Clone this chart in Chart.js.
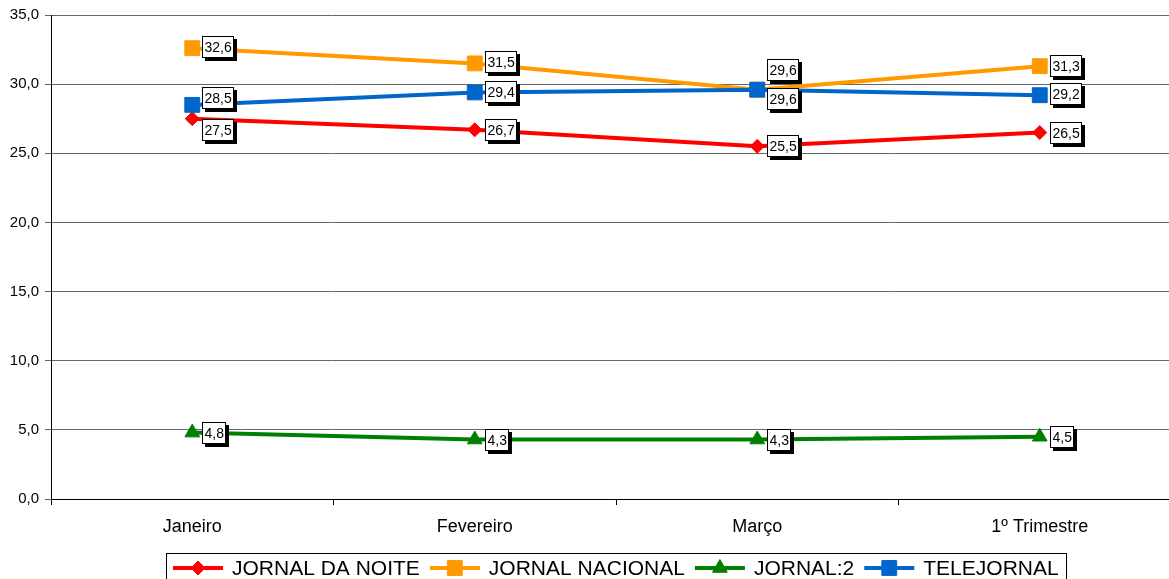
<!DOCTYPE html>
<html>
<head>
<meta charset="utf-8">
<script src="https://cdn.jsdelivr.net/npm/chart.js"></script>
<style>
  html, body { margin: 0; padding: 0; overflow: hidden; background: #fff; }
  #chart { display: block; }
</style>
</head>
<body>
<canvas id="chart" width="1169" height="579"></canvas>
<script>
const months = ["Janeiro", "Fevereiro", "Março", "1º Trimestre"];
const jornalDaNoite = [27.5, 26.7, 25.5, 26.5];
const jornalNacional = [32.6, 31.5, 29.6, 31.3];
const jornal2 = [4.8, 4.3, 4.3, 4.5];
const telejornal = [28.5, 29.4, 29.6, 29.2];

// vertical nudges of the value boxes (px), to keep them apart like the original
const shiftNoite = [11, 0, 0, 0];
const shiftNacional = [-1, -1, -20, 0];
const shiftJornal2 = [0, 0, 0, 0];
const shiftTele = [-7, 0, 9, -1];

const FONT = '"Liberation Sans", Arial, sans-serif';
const fmt = (v) => v.toFixed(1).replace(".", ",");

// the original plot runs ~12px past the right edge of the picture
const extendRight = {
  id: "extendRight",
  afterLayout(chart) {
    const extra = 12;
    chart.chartArea.right += extra;
    chart.chartArea.width += extra;
    const x = chart.scales.x;
    x.right += extra;
    x.width += extra;
    x.configure();
  },
};

// boxed value labels with a drop shadow
const boxLabels = {
  id: "boxLabels",
  afterDatasetsDraw(chart) {
    const ctx = chart.ctx;
    ctx.save();
    ctx.font = "14px " + FONT;
    ctx.textBaseline = "middle";
    chart.data.datasets.forEach((ds, i) => {
      chart.getDatasetMeta(i).data.forEach((pt, j) => {
        const txt = fmt(ds.data[j]);
        const w = Math.round(ctx.measureText(txt).width) + 5;
        const h = 22;
        const x = Math.round(pt.x + 10);
        const y = Math.round(pt.y + ds.labelShift[j] - h / 2);
        ctx.fillStyle = "#000";
        ctx.fillRect(x + 3, y + 3, w, h);
        ctx.fillStyle = "#fff";
        ctx.fillRect(x, y, w, h);
        ctx.strokeStyle = "#000";
        ctx.lineWidth = 1;
        ctx.strokeRect(x + 0.5, y + 0.5, w - 1, h - 1);
        ctx.fillStyle = "#000";
        ctx.fillText(txt, x + 2.5, y + h / 2 + 1);
      });
    });
    ctx.restore();
  },
};

// legend drawn by hand: line + marker, then the name, all inside a box
const boxLegend = {
  id: "boxLegend",
  afterDraw(chart) {
    const ctx = chart.ctx;
    const area = chart.chartArea;
    ctx.save();
    ctx.font = "21px " + FONT;
    ctx.textBaseline = "middle";
    const items = chart.data.datasets.map((ds) => ({
      ds,
      tw: ctx.measureText(ds.label).width,
    }));
    let total = 14;
    items.forEach((it, k) => {
      total += 50 + 9 + it.tw + (k < items.length - 1 ? 10 : 0);
    });
    const left = Math.round((area.left + area.right) / 2 - total / 2);
    const top = 553;
    ctx.strokeStyle = "#000";
    ctx.lineWidth = 1;
    ctx.strokeRect(left + 0.5, top + 0.5, Math.round(total), 40);
    const cy = 568;
    let x = left + 7;
    items.forEach((it) => {
      const ds = it.ds;
      ctx.strokeStyle = ds.borderColor;
      ctx.lineWidth = 4;
      ctx.beginPath();
      ctx.moveTo(x, cy);
      ctx.lineTo(x + 50, cy);
      ctx.stroke();
      ctx.fillStyle = ds.borderColor;
      ctx.lineWidth = 1;
      Chart.helpers.drawPoint(ctx, {
        pointStyle: ds.pointStyle,
        radius: ds.pointRadius,
        rotation: 0,
        borderWidth: 1,
      }, x + 25, cy);
      ctx.fillStyle = "#000";
      ctx.fillText(ds.label, x + 59, cy + 1);
      x += 50 + 9 + it.tw + 10;
    });
    ctx.restore();
  },
};

function series(label, data, color, style, radius, shift, order) {
  return {
    label,
    data,
    borderColor: color,
    backgroundColor: color,
    borderWidth: 4,
    pointStyle: style,
    pointRadius: radius,
    pointHoverRadius: radius,
    pointBackgroundColor: color,
    pointBorderColor: color,
    pointBorderWidth: 1,
    tension: 0,
    labelShift: shift,
    order,
  };
}

new Chart(document.getElementById("chart"), {
  type: "line",
  data: {
    labels: months,
    datasets: [
      series("JORNAL DA NOITE", jornalDaNoite, "#ff0000", "rectRot", 7, shiftNoite, 3),
      series("JORNAL NACIONAL", jornalNacional, "#ff9900", "rect", 10.5, shiftNacional, 2),
      series("JORNAL:2", jornal2, "#008000", "triangle", 8.5, shiftJornal2, 1),
      series("TELEJORNAL", telejornal, "#0066cc", "rect", 10.5, shiftTele, 0),
    ],
  },
  options: {
    responsive: false,
    animation: false,
    devicePixelRatio: 1,
    layout: { autoPadding: false, padding: { top: 14, left: 0, right: 0, bottom: 0 } },
    plugins: {
      legend: { display: false },
      tooltip: { enabled: false },
    },
    scales: {
      x: {
        offset: true,
        grid: {
          offset: true,
          drawOnChartArea: false,
          drawTicks: true,
          tickLength: 6,
          color: "#000",
        },
        border: { color: "#000", width: 1 },
        ticks: {
          color: "#000",
          padding: 11,
          font: { family: FONT, size: 18 },
          maxRotation: 0,
        },
        afterFit: (scale) => { scale.height = 80; },
      },
      y: {
        min: 0,
        max: 35,
        grid: { color: "#666", tickLength: 6, lineWidth: 1 },
        border: { color: "#000", width: 1 },
        ticks: {
          stepSize: 5,
          color: "#000",
          padding: 6,
          font: { family: FONT, size: 15 },
          callback: (v) => fmt(v),
        },
        afterFit: (scale) => { scale.width = 51; },
      },
    },
  },
  plugins: [extendRight, boxLabels, boxLegend],
});
</script>
</body>
</html>
